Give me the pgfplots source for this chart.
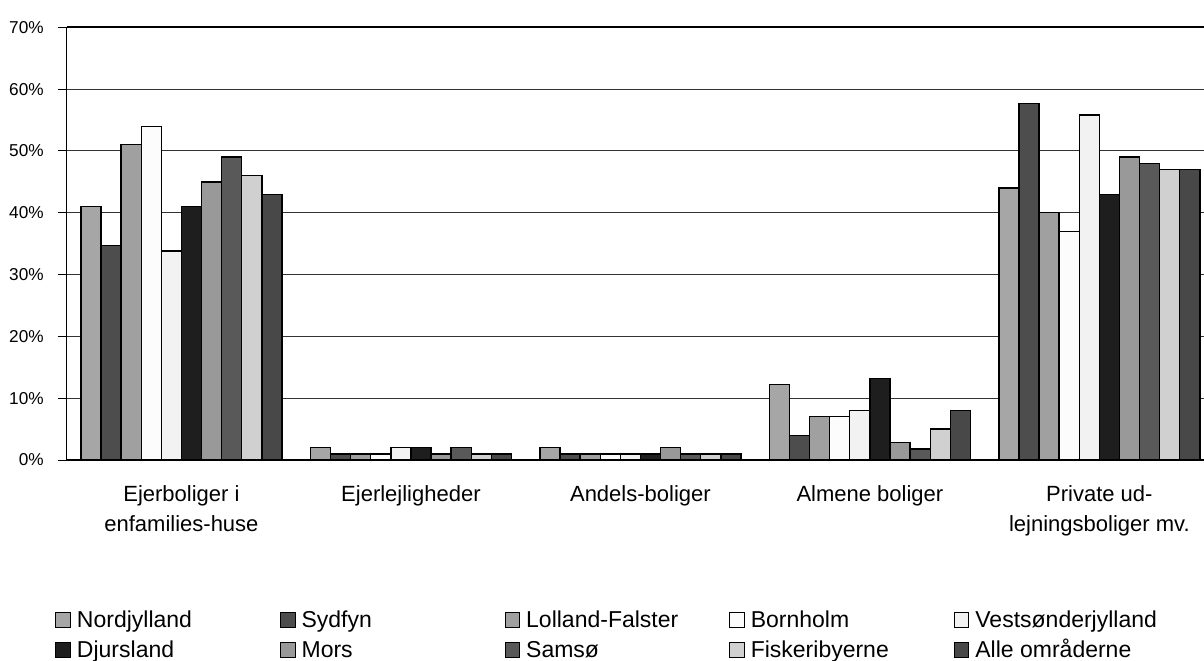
\documentclass[border=0pt]{standalone}
\usepackage{fontspec}
\setmainfont{Liberation Sans}
\usepackage{pgfplots}
\pgfplotsset{compat=1.18}

\definecolor{cNord}{HTML}{A6A6A6}
\definecolor{cSyd}{HTML}{4D4D4D}
\definecolor{cLol}{HTML}{A0A0A0}
\definecolor{cBorn}{HTML}{FCFCFC}
\definecolor{cVest}{HTML}{F2F2F2}
\definecolor{cDjur}{HTML}{1E1E1E}
\definecolor{cMors}{HTML}{999999}
\definecolor{cSams}{HTML}{595959}
\definecolor{cFisk}{HTML}{D0D0D0}
\definecolor{cAlle}{HTML}{484848}

\newcommand{\legtxt}[1]{\makebox[101.5pt][l]{#1}}

\begin{document}
\begin{tikzpicture}
\useasboundingbox (0,0) rectangle (602pt,330pt);
\begin{axis}[
    at={(33.35pt,100pt)}, anchor=south west,
    scale only axis, width=568.65pt, height=216.35pt,
    ybar=0pt, bar width=0.0876,
    xmin=-0.5, xmax=4.456, ymin=0, ymax=70,
    enlargelimits=false,
    axis x line*=bottom, axis y line*=left,
    axis line style={black, line width=0.6pt},
    xtick={0,...,4},
    xticklabels={{Ejerboliger i\\enfamilies-huse}, Ejerlejligheder, Andels-boliger, Almene boliger, {Private ud-\\lejningsboliger mv.}},
    x tick style={draw=none},
    xticklabel style={align=center, font=\fontsize{11}{15}\selectfont, yshift=-4.8pt},
    ytick={0,10,...,60}, extra y ticks={70},
    extra y tick style={major grid style={black, line width=1pt}},
    ymajorgrids, grid style={black!80, line width=0.5pt},
    tick align=outside, y tick style={black, line width=0.5pt}, major tick length=4.5pt,
    yticklabel={\pgfmathprintnumber{\tick}\%},
    /pgf/number format/assume math mode=true,
    yticklabel style={font=\fontsize{8.6}{10}\selectfont, xshift=-3.5pt},
    legend columns=5,
    legend image code/.code={\draw[#1,draw=black,line width=0.5pt] (0pt,0pt) rectangle (7.3pt,7.3pt);},
    legend style={draw=none, fill=none, at={(axis cs:-0.5,0)}, anchor=north west,
        xshift=-5.85pt, yshift=-75.1pt, inner sep=0pt, column sep=0pt, row sep=4pt,
        font=\fontsize{11.5}{13}\selectfont,
        nodes={inner sep=0pt, text height=8.4pt, text depth=2.6pt},
        cells={anchor=base west},
        /tikz/every odd column/.append style={column sep=3pt}},
]
% Nordjylland
\addplot[fill=cNord, draw=black, line width=0.7pt] coordinates {(0,41) (1,2) (2,2) (3,12.2) (4,44)};
% Sydfyn
\addplot[fill=cSyd, draw=black, line width=0.7pt] coordinates {(0,34.7) (1,1) (2,1) (3,4) (4,57.7)};
% Lolland-Falster
\addplot[fill=cLol, draw=black, line width=0.7pt] coordinates {(0,51) (1,1) (2,1) (3,7) (4,40)};
% Bornholm
\addplot[fill=cBorn, draw=black, line width=0.7pt] coordinates {(0,54) (1,1) (2,1) (3,7) (4,37)};
% Vestsonderjylland
\addplot[fill=cVest, draw=black, line width=0.7pt] coordinates {(0,33.8) (1,2) (2,1) (3,8) (4,55.8)};
% Djursland
\addplot[fill=cDjur, draw=black, line width=0.7pt] coordinates {(0,41) (1,2) (2,1) (3,13.2) (4,43)};
% Mors
\addplot[fill=cMors, draw=black, line width=0.7pt] coordinates {(0,45) (1,1) (2,2) (3,2.8) (4,49)};
% Samso
\addplot[fill=cSams, draw=black, line width=0.7pt] coordinates {(0,49) (1,2) (2,1) (3,1.8) (4,48)};
% Fiskeribyerne
\addplot[fill=cFisk, draw=black, line width=0.7pt] coordinates {(0,46) (1,1) (2,1) (3,5) (4,47)};
% Alle omraaderne
\addplot[fill=cAlle, draw=black, line width=0.7pt] coordinates {(0,43) (1,1) (2,1) (3,8) (4,47)};
\legend{\legtxt{Nordjylland}, \legtxt{Sydfyn}, \legtxt{Lolland-Falster}, \legtxt{Bornholm}, \legtxt{Vestsønderjylland},
        \legtxt{Djursland}, \legtxt{Mors}, \legtxt{Samsø}, \legtxt{Fiskeribyerne}, \legtxt{Alle områderne}}
\end{axis}
\end{tikzpicture}
\end{document}
